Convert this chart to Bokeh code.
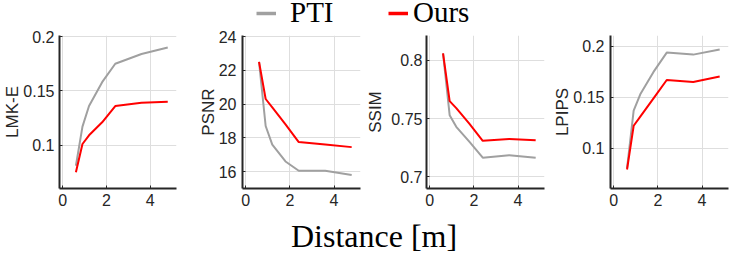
from bokeh.plotting import figure
from bokeh.layouts import row, column
from bokeh.models import (Range1d, FixedTicker, NumeralTickFormatter, Legend,
                          LegendItem, Div)
from bokeh.embed import file_html
from bokeh.resources import INLINE

# ---------------- data ----------------
distance = [0.6, 0.9, 1.2, 1.8, 2.4, 3.6, 4.8]

lmk_pti = [0.081, 0.117, 0.136, 0.158, 0.175, 0.184, 0.190]
lmk_ours = [0.075, 0.101, 0.109, 0.121, 0.136, 0.139, 0.140]

psnr_pti = [22.5, 18.7, 17.6, 16.6, 16.05, 16.05, 15.8]
psnr_ours = [22.5, 20.3, 19.8, 18.8, 17.75, 17.6, 17.45]

ssim_pti = [0.806, 0.753, 0.743, 0.730, 0.7165, 0.7186, 0.7165]
ssim_ours = [0.806, 0.765, 0.759, 0.7455, 0.731, 0.7326, 0.7314]

lpips_pti = [0.080, 0.137, 0.153, 0.175, 0.194, 0.192, 0.197]
lpips_ours = [0.079, 0.122, 0.131, 0.149, 0.167, 0.165, 0.1705]

x_ticks = [0, 2, 4]
metric_names = ["LMK-E", "PSNR", "SSIM", "LPIPS"]
y_limits = [(0.06, 0.201), (15.0, 24.06), (0.690, 0.8214), (0.0603, 0.2108)]
y_tick_sets = [[0.1, 0.15, 0.2], [16, 18, 20, 22, 24], [0.7, 0.75, 0.8], [0.1, 0.15, 0.2]]
series_names = ["PTI", "Ours"]

PTI_COLOR = "#a0a0a0"
OURS_COLOR = "#ff0000"
AX_COLOR = "#262626"
GRID_COLOR = "#dedede"

# layout: (min_border_left, frame_width, min_border_right)
borders = [(61, 117, 14), (52, 118, 2), (64, 118, 4), (62, 118, 3)]
tick_standoff = [5, 6, 4, 6]
label_standoff = [-2, -2, 3, -2]
TOTAL_W = sum(a + b + c for a, b, c in borders)
X_SHIFT = TOTAL_W - 731

all_pti = [lmk_pti, psnr_pti, ssim_pti, lpips_pti]
all_ours = [lmk_ours, psnr_ours, ssim_ours, lpips_ours]

panels = []
for i in range(4):
    bl, fw, br = borders[i]
    p = figure(frame_width=fw, frame_height=153,
               min_border_left=bl, min_border_right=br,
               min_border_top=10, min_border_bottom=33,
               x_range=Range1d(-0.15, 5.2), y_range=Range1d(*y_limits[i]),
               output_backend="svg", toolbar_location=None)
    p.outline_line_color = None
    p.background_fill_color = "white"
    p.border_fill_color = "white"

    p.line(distance, all_pti[i], line_color=PTI_COLOR, line_width=2)
    p.line(distance, all_ours[i], line_color=OURS_COLOR, line_width=2)

    p.xaxis.ticker = FixedTicker(ticks=x_ticks)
    p.yaxis.ticker = FixedTicker(ticks=y_tick_sets[i])
    p.xgrid.ticker = FixedTicker(ticks=x_ticks)
    p.ygrid.ticker = FixedTicker(ticks=y_tick_sets[i])
    p.grid.grid_line_color = GRID_COLOR
    p.grid.grid_line_width = 1

    p.yaxis.formatter = NumeralTickFormatter(format="0.[00]")
    p.xaxis.formatter = NumeralTickFormatter(format="0")
    p.yaxis.axis_label = metric_names[i]

    for ax in (p.xaxis, p.yaxis):
        ax.axis_line_color = AX_COLOR
        ax.axis_line_width = 2
        ax.major_tick_in = 3
        ax.major_tick_out = 0
        ax.major_tick_line_color = AX_COLOR
        ax.minor_tick_line_color = None
        ax.major_label_text_font = "Liberation Sans"
        ax.major_label_text_font_size = "16px"
        ax.major_label_text_color = AX_COLOR
        ax.axis_label_text_font = "Liberation Sans"
        ax.axis_label_text_font_size = "17px"
        ax.axis_label_text_font_style = "normal"
        ax.axis_label_text_color = AX_COLOR
    p.yaxis.major_label_standoff = tick_standoff[i]
    p.yaxis.axis_label_standoff = label_standoff[i]
    p.xaxis.major_label_standoff = 5
    panels.append(p)

# ---------------- legend strip ----------------
# legend swatches: the series are drawn here far outside the visible range,
# only so that the legend has renderers to draw its line samples from.
strip = figure(frame_width=TOTAL_W, frame_height=25,
               min_border_left=0, min_border_right=0,
               min_border_top=0, min_border_bottom=0,
               x_range=Range1d(-100, -99), y_range=Range1d(-100, -99),
               x_axis_type=None, y_axis_type=None,
               output_backend="svg", toolbar_location=None)
strip.outline_line_color = None
strip.grid.visible = False
r_pti = strip.line(distance, lmk_pti, line_color=PTI_COLOR, line_width=3.5)
r_ours = strip.line(distance, lmk_ours, line_color=OURS_COLOR, line_width=3.5)

for rend, name, loc, standoff in [(r_pti, series_names[0], (256 + X_SHIFT, -4), 14),
                                   (r_ours, series_names[1], (388 + X_SHIFT, -4), 5)]:
    lg = Legend(items=[LegendItem(label=name, renderers=[rend])],
                location=loc, orientation="horizontal",
                glyph_width=20, glyph_height=20, label_standoff=standoff,
                padding=0, margin=0, spacing=0,
                border_line_color=None, background_fill_alpha=0,
                label_text_font="Liberation Serif", label_text_font_size="29px",
                label_text_color="black")
    strip.add_layout(lg, "center")

xlabel = Div(text='<div style="margin-left:%dpx; margin-top:-6px; '
                  'font-family:\'Liberation Serif\'; font-size:32px; '
                  'line-height:1; color:black; white-space:nowrap;">Distance [m]</div>'
                  % (286 + X_SHIFT),
             width=TOTAL_W, height=35)

layout = column(strip, row(*panels), xlabel,
                styles={"margin-left": "-%dpx" % X_SHIFT})

open("out.html", "w").write(file_html(layout, INLINE))
